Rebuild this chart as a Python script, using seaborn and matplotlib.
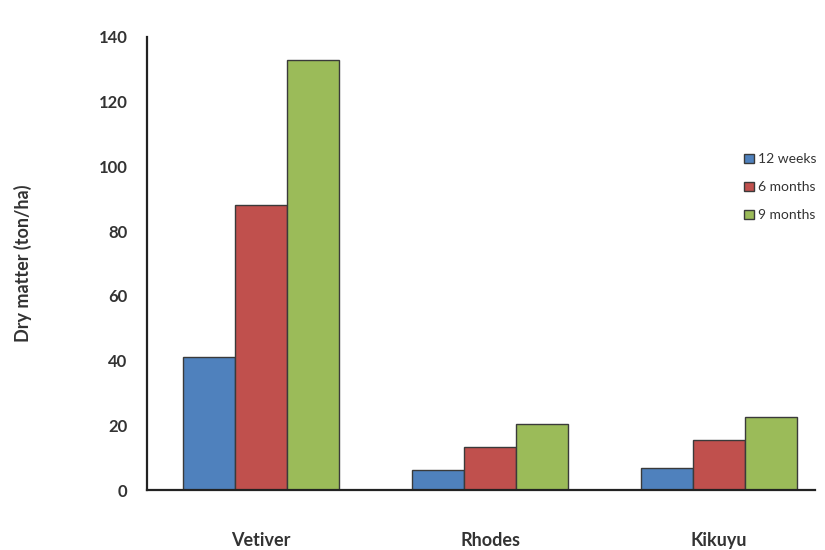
import pandas as pd
import matplotlib
matplotlib.use('Agg')
import matplotlib.pyplot as plt
import seaborn as sns

# data
grasses = ['Vetiver', 'Rhodes', 'Kikuyu']
periods = ['12 weeks', '6 months', '9 months']
weeks_12 = [41, 6.2, 6.8]
months_6 = [88, 13.4, 15.4]
months_9 = [133, 20.4, 22.6]

df = pd.DataFrame({
    'grass': grasses * 3,
    'period': [periods[0]] * 3 + [periods[1]] * 3 + [periods[2]] * 3,
    'dm': weeks_12 + months_6 + months_9,
})

sns.set_style('white')
plt.rcParams['font.family'] = ['Lato', 'DejaVu Sans']

palette = ['#4F81BD', '#C0504D', '#9BBB59']

fig = plt.figure(figsize=(8.25, 5.5), dpi=100)
ax = fig.add_axes([0.178, 0.109, 0.81, 0.824])

sns.barplot(data=df, x='grass', y='dm', hue='period', hue_order=periods,
            order=grasses, palette=palette, width=0.68, ax=ax,
            edgecolor='#3a3a3a', linewidth=1.0, saturation=1)

ax.set_ylim(0, 140)
ax.set_xlim(-0.5, 2.42)
ax.set_yticks(range(0, 141, 20))
ax.set_xlabel('')
ax.set_ylabel('Dry matter (ton/ha)', fontsize=13, fontweight='bold', color='#333333', labelpad=48)

sns.despine(ax=ax, top=True, right=True)
for s in ['left', 'bottom']:
    ax.spines[s].set_color('#222222')
    ax.spines[s].set_linewidth(1.6)

ax.tick_params(axis='y', direction='out', length=4, width=1.2, color='#222222',
               labelsize=12, labelcolor='#333333', pad=10)
ax.tick_params(axis='x', length=0, labelsize=13, labelcolor='#333333', pad=30)
for lab in ax.get_xticklabels() + ax.get_yticklabels():
    lab.set_fontweight('bold')

leg = ax.legend(loc='upper left', bbox_to_anchor=(0.885, 0.755), frameon=False,
                fontsize=10, handlelength=0.7, handleheight=0.7, handletextpad=0.3,
                labelspacing=1.15, borderaxespad=0)
for t in leg.get_texts():
    t.set_color('#333333')

fig.savefig('out.png', dpi=100)
